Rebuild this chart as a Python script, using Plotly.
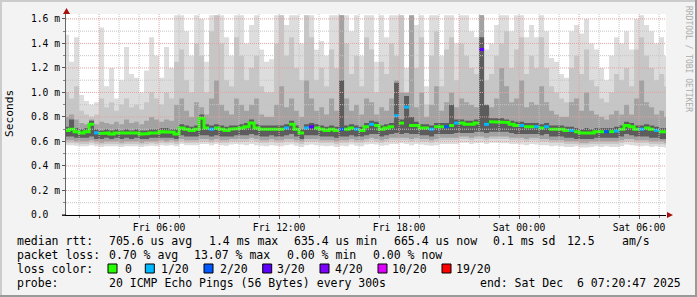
import plotly.graph_objects as go
import pandas as pd

# ---------------- data ----------------
RANGE_START = "2025-12-05 01:20:47"
RANGE_END = "2025-12-06 07:20:47"
STEP_START = "2025-12-05 01:15:00"
STEP = "15min"

# median rtt per step (ms)
med = [0.69, 0.70, 0.68, 0.67, 0.68, 0.74, 0.67, 0.665, 0.67, 0.66,
       0.67, 0.665, 0.67, 0.665, 0.67, 0.66, 0.665, 0.67, 0.67, 0.68,
       0.68, 0.675, 0.66, 0.71, 0.70, 0.69, 0.70, 0.79, 0.71, 0.70,
       0.71, 0.70, 0.69, 0.70, 0.705, 0.71, 0.72, 0.75, 0.71, 0.70,
       0.70, 0.70, 0.70, 0.70, 0.71, 0.74, 0.70, 0.67, 0.71, 0.72,
       0.71, 0.70, 0.69, 0.70, 0.69, 0.70, 0.70, 0.71, 0.70, 0.69,
       0.72, 0.74, 0.73, 0.70, 0.71, 0.72, 0.81, 0.75, 0.88, 0.73,
       0.73, 0.71, 0.71, 0.70, 0.72, 0.72, 0.72, 0.73, 0.75, 0.75,
       0.74, 0.74, 0.75, 1.35, 0.74, 0.76, 0.76, 0.76, 0.755, 0.74,
       0.73, 0.73, 0.72, 0.72, 0.72, 0.71, 0.72, 0.70, 0.70, 0.70,
       0.69, 0.69, 0.68, 0.67, 0.675, 0.67, 0.68, 0.68, 0.68, 0.68,
       0.685, 0.70, 0.73, 0.72, 0.70, 0.70, 0.71, 0.70, 0.69, 0.68,
       0.68, 0.665]

# lost pings (of 20) per step
loss = [0, 0, 0, 0, 0, 0, 1, 0, 0, 0,
        0, 0, 0, 0, 0, 0, 0, 0, 0, 0,
        0, 0, 0, 0, 0, 0, 0, 0, 0, 1,
        0, 0, 0, 0, 0, 0, 0, 0, 0, 0,
        0, 0, 0, 0, 1, 0, 0, 0, 1, 3,
        0, 0, 0, 0, 0, 2, 0, 0, 1, 0,
        0, 1, 0, 0, 0, 0, 1, 0, 1, 0,
        0, 0, 0, 1, 0, 0, 2, 0, 1, 0,
        0, 0, 0, 3, 1, 0, 0, 0, 0, 0,
        0, 1, 0, 0, 1, 0, 1, 0, 0, 0,
        0, 1, 0, 0, 0, 0, 0, 0, 2, 0,
        1, 0, 0, 0, 0, 1, 0, 0, 1, 0,
        0, 0]

# smoke: max ping (ms)
mx = [1.47, 1.25, 1.45, 0.98, 0.93, 0.90, 0.92, 1.53, 1.05, 1.20,
      0.95, 1.10, 1.37, 1.15, 1.12, 1.00, 1.18, 1.45, 1.30, 1.12,
      1.37, 1.20, 1.63, 1.63, 1.50, 1.30, 1.63, 1.60, 1.25, 1.63,
      1.63, 1.63, 1.45, 1.30, 1.63, 1.63, 1.40, 1.55, 1.63, 1.35,
      1.25, 1.27, 1.63, 1.63, 1.55, 1.63, 1.63, 1.40, 1.63, 1.63,
      1.35, 1.42, 1.30, 1.63, 1.63, 1.63, 1.63, 1.50, 1.63, 1.30,
      1.63, 1.63, 1.25, 1.63, 1.45, 1.63, 1.63, 1.63, 1.20, 1.63,
      1.55, 1.63, 1.05, 1.63, 1.63, 1.30, 1.63, 1.63, 1.40, 1.63,
      1.63, 1.50, 1.45, 1.63, 1.35, 1.40, 1.55, 1.63, 1.63, 1.50,
      1.63, 1.63, 1.45, 1.55, 1.45, 1.63, 1.50, 1.28, 1.25, 1.15,
      1.12, 1.50, 1.55, 1.48, 1.60, 1.40, 1.35, 1.20, 1.10, 1.30,
      1.45, 1.40, 1.50, 1.35, 1.60, 1.63, 1.55, 1.50, 1.40, 1.45,
      1.30, 1.35]

# smoke: upper edge of the mid-light layer
h2 = [1.00, 0.95, 1.05, 0.85, 0.82, 0.80, 0.82, 0.95, 0.88, 0.92,
      0.85, 0.90, 0.95, 0.88, 0.90, 0.86, 0.92, 1.00, 0.95, 0.90,
      1.00, 0.95, 1.25, 1.35, 1.10, 1.00, 1.40, 1.30, 1.00, 1.50,
      1.63, 1.40, 1.10, 1.05, 1.45, 1.30, 1.10, 1.20, 1.30, 1.05,
      1.00, 1.00, 1.40, 1.63, 1.30, 1.45, 1.20, 1.10, 1.63, 1.45,
      1.10, 1.20, 1.05, 1.35, 1.20, 1.63, 1.40, 1.15, 1.30, 1.05,
      1.45, 1.35, 1.00, 1.25, 1.15, 1.40, 1.30, 1.63, 0.95, 1.35,
      1.20, 1.45, 0.90, 1.30, 1.50, 1.05, 1.35, 1.45, 1.10, 1.40,
      1.30, 1.20, 1.15, 1.63, 1.10, 1.15, 1.30, 1.40, 1.50, 1.20,
      1.35, 1.45, 1.15, 1.30, 1.20, 1.45, 1.20, 1.05, 1.00, 0.95,
      0.92, 1.20, 1.30, 1.15, 1.35, 1.10, 1.05, 0.95, 0.92, 1.00,
      1.15, 1.10, 1.20, 1.05, 1.35, 1.45, 1.30, 1.20, 1.10, 1.15,
      1.05, 1.10]

# smoke: upper edge of the mid-dark layer
h3 = [0.80, 0.82, 0.78, 0.75, 0.74, 0.78, 0.74, 0.76, 0.75, 0.74,
      0.76, 0.74, 0.78, 0.75, 0.76, 0.74, 0.77, 0.80, 0.78, 0.76,
      0.78, 0.77, 0.90, 0.95, 0.85, 0.80, 0.92, 0.88, 0.82, 0.95,
      1.10, 0.90, 0.85, 0.82, 0.95, 0.90, 0.85, 0.90, 0.95, 0.82,
      0.80, 0.80, 0.90, 1.05, 0.88, 0.95, 0.85, 0.80, 1.10, 0.95,
      0.85, 0.88, 0.82, 0.95, 0.85, 1.63, 0.95, 0.85, 0.90, 0.82,
      0.95, 0.92, 0.82, 0.88, 0.85, 0.95, 1.10, 1.00, 1.00, 1.63,
      0.88, 1.00, 0.80, 0.90, 1.05, 0.85, 0.92, 1.00, 0.88, 0.95,
      0.92, 0.90, 0.88, 1.63, 0.90, 0.88, 0.95, 1.20, 1.05, 0.92,
      0.95, 1.10, 0.88, 0.92, 0.90, 1.05, 0.92, 0.85, 0.82, 0.80,
      0.80, 0.92, 0.95, 0.85, 1.00, 0.85, 0.82, 0.80, 0.78, 0.82,
      0.85, 0.82, 0.90, 0.82, 0.95, 1.10, 0.92, 0.88, 0.82, 0.85,
      0.80, 0.82]

# smoke: upper edge of the dark core
h4 = [0.72, 0.78, 0.71, 0.70, 0.71, 0.77, 0.70, 0.69, 0.70, 0.69,
      0.70, 0.69, 0.70, 0.69, 0.70, 0.69, 0.69, 0.70, 0.70, 0.71,
      0.71, 0.70, 0.70, 0.74, 0.73, 0.72, 0.73, 0.82, 0.74, 0.73,
      0.74, 0.73, 0.72, 0.73, 0.73, 0.74, 0.75, 0.78, 0.74, 0.73,
      0.73, 0.73, 0.73, 0.73, 0.74, 0.77, 0.73, 0.70, 0.74, 0.75,
      0.74, 0.73, 0.72, 0.73, 0.72, 1.10, 0.73, 0.74, 0.73, 0.72,
      0.75, 0.77, 0.76, 0.73, 0.74, 0.75, 1.08, 0.78, 0.97, 0.80,
      0.76, 0.74, 0.74, 0.73, 0.75, 0.75, 0.75, 0.90, 0.78, 0.78,
      0.77, 0.77, 0.78, 1.45, 0.90, 0.79, 0.79, 0.79, 0.78, 0.77,
      0.76, 0.76, 0.75, 0.75, 0.75, 0.74, 0.75, 0.73, 0.73, 0.73,
      0.72, 0.72, 0.71, 0.70, 0.71, 0.70, 0.71, 0.71, 0.71, 0.71,
      0.72, 0.73, 0.76, 0.75, 0.73, 0.73, 0.74, 0.73, 0.72, 0.71,
      0.71, 0.70]

# smoke: lower edge of the dark core
lo4 = [0.64, 0.64, 0.63, 0.63, 0.63, 0.64, 0.62, 0.62, 0.63, 0.62,
       0.63, 0.62, 0.63, 0.62, 0.63, 0.62, 0.62, 0.63, 0.63, 0.63,
       0.63, 0.63, 0.62, 0.65, 0.64, 0.64, 0.64, 0.65, 0.65, 0.64,
       0.65, 0.64, 0.64, 0.64, 0.65, 0.65, 0.65, 0.66, 0.65, 0.64,
       0.64, 0.65, 0.64, 0.64, 0.65, 0.66, 0.64, 0.62, 0.65, 0.65,
       0.65, 0.64, 0.64, 0.64, 0.63, 0.64, 0.64, 0.65, 0.64, 0.64,
       0.65, 0.66, 0.66, 0.64, 0.65, 0.66, 0.67, 0.66, 0.67, 0.66,
       0.66, 0.65, 0.65, 0.64, 0.66, 0.66, 0.66, 0.66, 0.67, 0.67,
       0.67, 0.67, 0.68, 0.68, 0.67, 0.68, 0.68, 0.68, 0.68, 0.67,
       0.66, 0.66, 0.66, 0.66, 0.66, 0.65, 0.66, 0.64, 0.64, 0.64,
       0.63, 0.63, 0.62, 0.62, 0.62, 0.62, 0.63, 0.63, 0.63, 0.63,
       0.63, 0.64, 0.66, 0.65, 0.64, 0.64, 0.64, 0.63, 0.63, 0.62,
       0.62, 0.62]

# smoke: lower edge of the mid-dark layer
lo3 = [0.61, 0.61, 0.60, 0.60, 0.60, 0.61, 0.60, 0.59, 0.60, 0.60,
       0.60, 0.59, 0.60, 0.60, 0.60, 0.59, 0.60, 0.60, 0.60, 0.61,
       0.60, 0.61, 0.60, 0.62, 0.61, 0.61, 0.61, 0.62, 0.62, 0.61,
       0.62, 0.61, 0.61, 0.62, 0.62, 0.62, 0.62, 0.63, 0.62, 0.61,
       0.61, 0.62, 0.61, 0.61, 0.62, 0.62, 0.61, 0.60, 0.62, 0.62,
       0.62, 0.61, 0.61, 0.61, 0.60, 0.61, 0.61, 0.62, 0.61, 0.61,
       0.62, 0.63, 0.62, 0.61, 0.62, 0.63, 0.63, 0.63, 0.63, 0.62,
       0.63, 0.62, 0.62, 0.61, 0.62, 0.63, 0.63, 0.63, 0.63, 0.64,
       0.64, 0.63, 0.64, 0.64, 0.63, 0.64, 0.64, 0.64, 0.64, 0.63,
       0.63, 0.63, 0.62, 0.63, 0.63, 0.62, 0.62, 0.61, 0.61, 0.61,
       0.60, 0.60, 0.60, 0.59, 0.59, 0.60, 0.60, 0.60, 0.60, 0.60,
       0.60, 0.61, 0.62, 0.62, 0.61, 0.61, 0.61, 0.60, 0.60, 0.60,
       0.59, 0.59]

# smoke: lower edge of the mid-light layer
lo2 = [0.59, 0.59, 0.585, 0.58, 0.58, 0.59, 0.58, 0.575, 0.58, 0.58,
       0.58, 0.575, 0.58, 0.58, 0.58, 0.575, 0.58, 0.585, 0.58, 0.59,
       0.585, 0.59, 0.58, 0.60, 0.59, 0.59, 0.59, 0.60, 0.60, 0.59,
       0.60, 0.59, 0.59, 0.60, 0.60, 0.60, 0.60, 0.61, 0.60, 0.59,
       0.59, 0.60, 0.59, 0.59, 0.60, 0.60, 0.59, 0.58, 0.60, 0.60,
       0.60, 0.59, 0.59, 0.59, 0.58, 0.59, 0.59, 0.60, 0.59, 0.59,
       0.60, 0.61, 0.60, 0.59, 0.60, 0.61, 0.61, 0.61, 0.61, 0.60,
       0.61, 0.60, 0.60, 0.59, 0.60, 0.61, 0.61, 0.61, 0.61, 0.62,
       0.62, 0.61, 0.62, 0.62, 0.61, 0.62, 0.62, 0.62, 0.62, 0.61,
       0.61, 0.61, 0.60, 0.61, 0.61, 0.60, 0.60, 0.59, 0.59, 0.59,
       0.58, 0.58, 0.58, 0.575, 0.575, 0.58, 0.58, 0.58, 0.58, 0.58,
       0.58, 0.59, 0.60, 0.60, 0.59, 0.59, 0.59, 0.58, 0.58, 0.58,
       0.575, 0.575]

# smoke: min ping (ms)
mn = [0.57, 0.57, 0.565, 0.56, 0.56, 0.57, 0.56, 0.555, 0.56, 0.56,
      0.56, 0.555, 0.56, 0.56, 0.56, 0.555, 0.56, 0.565, 0.56, 0.57,
      0.565, 0.57, 0.56, 0.58, 0.57, 0.57, 0.57, 0.58, 0.58, 0.57,
      0.58, 0.57, 0.565, 0.575, 0.58, 0.575, 0.57, 0.58, 0.57, 0.565,
      0.56, 0.57, 0.565, 0.56, 0.57, 0.575, 0.565, 0.555, 0.57, 0.575,
      0.57, 0.565, 0.56, 0.565, 0.555, 0.565, 0.56, 0.575, 0.565, 0.56,
      0.575, 0.58, 0.575, 0.565, 0.57, 0.58, 0.58, 0.585, 0.58, 0.57,
      0.58, 0.575, 0.57, 0.565, 0.57, 0.58, 0.58, 0.58, 0.58, 0.59,
      0.59, 0.58, 0.585, 0.59, 0.58, 0.59, 0.59, 0.585, 0.585, 0.58,
      0.58, 0.575, 0.57, 0.58, 0.575, 0.57, 0.57, 0.56, 0.565, 0.56,
      0.555, 0.555, 0.56, 0.55, 0.55, 0.555, 0.56, 0.555, 0.56, 0.555,
      0.555, 0.56, 0.575, 0.57, 0.565, 0.56, 0.565, 0.555, 0.56, 0.555,
      0.55, 0.55]

loss_levels = [0, 1, 2, 3, 4, 10, 19]
loss_labels = ["0", "1/20", "2/20", "3/20", "4/20", "10/20", "19/20"]
loss_colors = ["#26ff00", "#00b8ff", "#0059ff", "#5e00ff", "#7e00ff", "#dd00ff", "#ff0000"]

y_tickvals = [0.0, 0.2, 0.4, 0.6, 0.8, 1.0, 1.2, 1.4, 1.6]
y_ticktext = ["0.0\u00a0\u00a0", "0.2 m", "0.4 m", "0.6 m", "0.8 m", "1.0 m", "1.2 m", "1.4 m", "1.6 m"]

legend_rows = [
    [("median rtt:", 16), ("705.6 us avg", 107.5), ("1.4 ms max", 207.6), ("635.4 us min", 293),
     ("665.4 us now", 393), ("0.1 ms sd", 492.4), ("12.5", 566), ("am/s", 621.3)],
    [("packet loss:", 16), ("0.70 % avg", 107.5), ("13.07 % max", 193), ("0.00 % min", 285.8),
     ("0.00 % now", 372)],
    [("loss color:", 16)],
    [("probe:", 16), ("20 ICMP Echo Pings (56 Bytes) every 300s", 107.5),
     ("end: Sat Dec  6 07:20:47 2025", 478.7)],
]
legend_row_y = [241, 255, 268.5, 283]
loss_box_x = [108, 145.3, 204, 262.7, 320, 378, 442]
loss_lab_x = [123.6, 160.4, 218.7, 276.4, 334, 391, 455]

# ---------------- figure ----------------
W, H = 697, 297
L, R, T, B = 66, 31, 14, 82
PW, PH = W - L - R, H - T - B
Y_MAX = 1.64

def px(xp):
    return (xp - L) / PW

def py(yp):
    return (H - B - yp) / PH

N = len(med)
for arr in (loss, mx, h2, h3, h4, lo4, lo3, lo2, mn):
    assert len(arr) == N, len(arr)

tx = list(pd.date_range(STEP_START, periods=N + 1, freq=STEP))

def stepy(a):
    return list(a) + [a[-1]]

fig = go.Figure()

layers = [(mn, mx, "#dddddd"), (lo2, h2, "#c6c6c6"), (lo3, h3, "#a2a2a2"), (lo4, h4, "#5c5c5c")]
for lo, hi, col in layers:
    fig.add_trace(go.Scatter(x=tx, y=stepy(lo), mode="lines", line=dict(width=0, shape="hv"),
                             hoverinfo="skip", showlegend=False))
    fig.add_trace(go.Scatter(x=tx, y=stepy(hi), mode="lines", line=dict(width=0, shape="hv"),
                             fill="tonexty", fillcolor=col, hoverinfo="skip", showlegend=False))

def level_of(k):
    return max(j for j, lv in enumerate(loss_levels) if k >= lv)

for j, col in enumerate(loss_colors):
    xs, ys = [], []
    for i in range(N):
        if level_of(loss[i]) != j:
            continue
        xs += [tx[i], tx[i + 1]]
        ys += [med[i], med[i]]
        if i + 1 < N and level_of(loss[i + 1]) == j:
            continue
        xs.append(None)
        ys.append(None)
    if xs:
        fig.add_trace(go.Scatter(x=xs, y=ys, mode="lines", line=dict(color=col, width=3),
                                 hoverinfo="skip", showlegend=False, connectgaps=False))

shapes = []
GRID_GRAY = "#c4c4c4"
GRID_RED = "#e2a3a3"
for h in pd.date_range("2025-12-05 02:00", "2025-12-06 07:00", freq="1h"):
    shapes.append(dict(type="line", xref="x", yref="y domain", x0=h, x1=h, y0=0, y1=1,
                       line=dict(color=GRID_RED if h.hour % 3 == 0 else GRID_GRAY, width=1, dash="1px,1px"),
                       layer="above"))
for k in range(1, 17):
    v = k / 10
    shapes.append(dict(type="line", xref="x domain", yref="y", x0=0, x1=1, y0=v, y1=v,
                       line=dict(color=GRID_RED if k % 2 == 0 else GRID_GRAY, width=1, dash="1px,1px"),
                       layer="above"))

# arrows
AR = "#a81010"
shapes.append(dict(type="path", xref="paper", yref="paper",
                   path=f"M {px(667)} {py(212)} L {px(673)} {py(215)} L {px(667)} {py(218)} Z",
                   fillcolor=AR, line=dict(width=0), layer="above"))
shapes.append(dict(type="path", xref="paper", yref="paper",
                   path=f"M {px(63)} {py(14)} L {px(66.5)} {py(8)} L {px(70)} {py(14)} Z",
                   fillcolor=AR, line=dict(width=0), layer="above"))
# small axis extension left of origin
shapes.append(dict(type="line", xref="paper", yref="paper", x0=px(62), x1=px(66), y0=py(215), y1=py(215),
                   line=dict(color="black", width=1), layer="above"))
# frame
shapes.append(dict(type="rect", xref="paper", yref="paper", x0=px(0), x1=px(W), y0=py(0), y1=py(2),
                   fillcolor="#cccccc", line=dict(width=0), layer="below"))
shapes.append(dict(type="rect", xref="paper", yref="paper", x0=px(0), x1=px(2), y0=py(0), y1=py(H),
                   fillcolor="#cccccc", line=dict(width=0), layer="below"))
shapes.append(dict(type="rect", xref="paper", yref="paper", x0=px(0), x1=px(W), y0=py(H - 2), y1=py(H),
                   fillcolor="#999999", line=dict(width=0), layer="below"))
shapes.append(dict(type="rect", xref="paper", yref="paper", x0=px(W - 2), x1=px(W), y0=py(0), y1=py(H),
                   fillcolor="#999999", line=dict(width=0), layer="below"))

# loss colour boxes
for bx, col in zip(loss_box_x, loss_colors):
    shapes.append(dict(type="rect", xref="paper", yref="paper", x0=px(bx), x1=px(bx + 9),
                       y0=py(264), y1=py(273), fillcolor=col, line=dict(color="black", width=1)))

MONO = "DejaVu Sans Mono"
annotations = []
for row, yy in zip(legend_rows, legend_row_y):
    for txt, xx in row:
        annotations.append(dict(text=txt.replace(" ", "\u00a0"), x=px(xx), y=py(yy), xref="paper", yref="paper",
                                xanchor="left", yanchor="middle", showarrow=False, borderpad=0,
                                font=dict(family=MONO, size=11.5, color="black")))
for lab, xx in zip(loss_labels, loss_lab_x):
    annotations.append(dict(text=lab, x=px(xx), y=py(268.5), xref="paper", yref="paper",
                            xanchor="left", yanchor="middle", showarrow=False, borderpad=0,
                            font=dict(family=MONO, size=11.5, color="black")))
annotations.append(dict(text="Seconds", x=px(10), y=py(114), xref="paper", yref="paper",
                        xanchor="center", yanchor="middle", showarrow=False, textangle=-90,
                        font=dict(family=MONO, size=11.2, color="black")))
annotations.append(dict(text="RRDTOOL / TOBI OETIKER", x=px(688), y=py(59), xref="paper", yref="paper",
                        xanchor="center", yanchor="middle", showarrow=False, textangle=90,
                        font=dict(family=MONO, size=8, color="#acacac")))

x_tickvals = list(pd.date_range("2025-12-05 03:00", "2025-12-06 06:00", freq="3h"))
x_ticktext = [t.strftime("%a %H:%M") if t.hour % 6 == 0 else "" for t in x_tickvals]

fig.update_layout(
    width=W, height=H,
    margin=dict(l=L, r=R, t=T, b=B, pad=0),
    paper_bgcolor="#f3f3f3", plot_bgcolor="#ffffff",
    showlegend=False,
    shapes=shapes, annotations=annotations,
    xaxis=dict(type="date", range=[RANGE_START, RANGE_END], showgrid=False, zeroline=False,
               tickvals=x_tickvals, ticktext=x_ticktext, ticks="outside", ticklen=3, tickcolor="#555555",
               showline=True, linecolor="black", linewidth=1,
               minor=dict(dtick=3600000, tick0="2025-12-05 00:00", ticks="outside", ticklen=2,
                          tickcolor="#888888", showgrid=False),
               tickfont=dict(family=MONO, size=9.7, color="black"), fixedrange=True),
    yaxis=dict(range=[0, Y_MAX], showgrid=False, zeroline=False,
               tickvals=y_tickvals, ticktext=y_ticktext, ticks="outside", ticklen=3, tickcolor="#555555",
               showline=True, linecolor="#666666", linewidth=1,
               minor=dict(dtick=0.1, tick0=0, ticks="outside", ticklen=2, tickcolor="#888888", showgrid=False),
               tickfont=dict(family=MONO, size=9.7, color="black"), fixedrange=True),
)

fig.write_html("out.html")
